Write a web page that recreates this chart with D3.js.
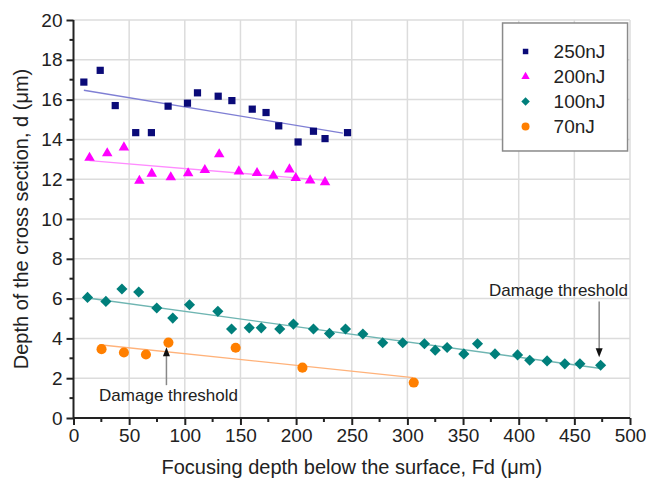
<!DOCTYPE html>
<html>
<head>
<meta charset="utf-8">
<script src="https://cdn.jsdelivr.net/npm/d3@7"></script>
<style>
  body { margin: 0; background: #fff; }
  text { font-family: "Liberation Sans", Arial, sans-serif; fill: #222; }
</style>
</head>
<body>
<div id="chart"></div>
<script>
// values
const seriesNames = ["250nJ", "200nJ", "100nJ", "70nJ"];

const x250 = [9.3, 24, 37.5, 55.9, 70, 85, 102.4, 111.4, 130, 142.3, 160.6, 173, 184.4, 201.8, 215.6, 226, 246.2];
const y250 = [16.88, 17.47, 15.7, 14.34, 14.34, 15.67, 15.82, 16.34, 16.17, 15.95, 15.52, 15.35, 14.68, 13.87, 14.41, 14.04, 14.34];

const x200 = [14.4, 30.3, 45.3, 59.2, 70.3, 87.4, 103, 118, 130.9, 148.6, 164.9, 179.6, 194, 199.7, 212.6, 226];
const y200 = [13.08, 13.3, 13.6, 11.92, 12.28, 12.1, 12.3, 12.46, 13.25, 12.39, 12.31, 12.17, 12.49, 12.06, 11.94, 11.85];

const x100 = [12.6, 29.1, 43.5, 58.6, 74.8, 89.2, 104.2, 129.7, 142, 157.9, 168.7, 185.3, 197.6, 215.6, 230, 244.4,
  260, 277.8, 295.8, 315.3, 325, 335.7, 350.7, 363, 378.7, 399, 409.9, 425.5, 441.4, 455, 473.6];
const y100 = [6.06, 5.86, 6.48, 6.33, 5.53, 5.02, 5.69, 5.36, 4.47, 4.53, 4.53, 4.47, 4.72, 4.47, 4.25, 4.47,
  4.22, 3.78, 3.78, 3.73, 3.41, 3.54, 3.22, 3.73, 3.22, 3.17, 2.9, 2.87, 2.72, 2.72, 2.65];

const x70 = [25.2, 45.3, 65.1, 85.3, 145.7, 205.7, 305.7];
const y70 = [3.46, 3.29, 3.19, 3.79, 3.53, 2.53, 1.78];

// linear fit lines: [x start, y start, x end, y end]
const fit250 = [9.3, 16.47, 242, 14.32];
const fit200 = [14.4, 12.93, 227.6, 11.94];
const fit100 = [12.6, 6.03, 472.4, 2.5];
const fit70 = [23.4, 3.68, 305.1, 2.03];

const xTicks = d3.range(0, 501, 50);
const yTicks = d3.range(0, 21, 2);

const W = 646, H = 479;
const margin = { top: 20, right: 16, bottom: 61, left: 73.5 };
const width = W - margin.left - margin.right,
    height = H - margin.top - margin.bottom;

const svg = d3.select("#chart").append("svg")
    .attr("width", W)
    .attr("height", H);

const g = svg.append("g")
    .attr("transform", `translate(${margin.left},${margin.top})`);

const x = d3.scaleLinear().domain([0, 500]).range([0, width]);
const y = d3.scaleLinear().domain([0, 20]).range([height, 0]);

// grid
g.append("g").selectAll("line")
    .data(xTicks.slice(1))
    .join("line")
    .attr("x1", d => x(d)).attr("x2", d => x(d))
    .attr("y1", 0).attr("y2", height)
    .attr("stroke", "#dcdcdc").attr("stroke-width", 1.5);

g.append("g").selectAll("line")
    .data(yTicks.slice(1))
    .join("line")
    .attr("x1", 0).attr("x2", width)
    .attr("y1", d => y(d)).attr("y2", d => y(d))
    .attr("stroke", "#dcdcdc").attr("stroke-width", 1.5);

// fit lines
const fits = [
  { f: fit250, c: "#7f7fd4" },
  { f: fit200, c: "#ff8cff" },
  { f: fit100, c: "#6fb5b2" },
  { f: fit70, c: "#ffb27a" }
];
g.append("g").selectAll("line")
    .data(fits)
    .join("line")
    .attr("x1", d => x(d.f[0])).attr("y1", d => y(d.f[1]))
    .attr("x2", d => x(d.f[2])).attr("y2", d => y(d.f[3]))
    .attr("stroke", d => d.c).attr("stroke-width", 1.3);

// markers
const styles = [
  { xs: x250, ys: y250, color: "#0a0a78", sym: d3.symbolSquare, size: 52, rot: 0 },
  { xs: x200, ys: y200, color: "#ff00ff", sym: d3.symbolTriangle, size: 48, rot: 0 },
  { xs: x100, ys: y100, color: "#007f7b", sym: d3.symbolSquare, size: 62, rot: 45 },
  { xs: x70, ys: y70, color: "#ff7f00", sym: d3.symbolCircle, size: 80, rot: 0 }
];

styles.forEach(s => {
  const pts = s.xs.map((v, i) => [v, s.ys[i]]);
  g.append("g").selectAll("path")
      .data(pts)
      .join("path")
      .attr("d", d3.symbol().type(s.sym).size(s.size))
      .attr("transform", d => `translate(${x(d[0])},${y(d[1])}) rotate(${s.rot})`)
      .attr("fill", s.color);
});

// axes
const xAxis = g.append("g")
    .attr("transform", `translate(0,${height})`)
    .call(d3.axisBottom(x).tickValues(xTicks).tickSize(7).tickPadding(4));
xAxis.append("g").selectAll("line")
    .data(d3.range(25, 500, 50))
    .join("line")
    .attr("x1", d => x(d)).attr("x2", d => x(d))
    .attr("y1", 0).attr("y2", 4)
    .attr("stroke", "#222").attr("stroke-width", 2);

const yAxis = g.append("g")
    .call(d3.axisLeft(y).tickValues(yTicks).tickSize(7).tickPadding(4));
yAxis.append("g").selectAll("line")
    .data(d3.range(1, 20, 2))
    .join("line")
    .attr("y1", d => y(d)).attr("y2", d => y(d))
    .attr("x1", 0).attr("x2", -4)
    .attr("stroke", "#222").attr("stroke-width", 2);

[xAxis, yAxis].forEach(a => {
  a.select(".domain").attr("stroke", "#222").attr("stroke-width", 2);
  a.selectAll(".tick line").attr("stroke", "#222").attr("stroke-width", 2);
  a.selectAll(".tick text")
      .style("font-family", "'Liberation Sans', Arial, sans-serif")
      .style("font-size", "19px")
      .attr("fill", "#222");
});
xAxis.select(".domain").attr("d", `M0,0H${width}`);
yAxis.select(".domain").attr("d", `M0,0V${height}`);

// axis titles
g.append("text")
    .attr("x", width / 2)
    .attr("y", height + 56)
    .attr("text-anchor", "middle")
    .style("font-size", "20px")
    .text("Focusing depth below the surface, Fd (μm)");

g.append("text")
    .attr("transform", "rotate(-90)")
    .attr("x", -(y(10)))
    .attr("y", -46)
    .attr("text-anchor", "middle")
    .style("font-size", "20px")
    .text("Depth of the cross section, d (μm)");

// annotations
function arrow(px, yFrom, yTo) {
  const dir = yTo > yFrom ? 1 : -1;
  g.append("line")
      .attr("x1", px).attr("x2", px)
      .attr("y1", yFrom).attr("y2", yTo - dir * 8)
      .attr("stroke", "#888").attr("stroke-width", 1.5);
  g.append("path")
      .attr("d", `M${px - 3.5},${yTo - dir * 9}L${px + 3.5},${yTo - dir * 9}L${px},${yTo}Z`)
      .attr("fill", "#111");
}

g.append("text")
    .attr("x", x(23))
    .attr("y", y(0.84))
    .style("font-size", "17px")
    .text("Damage threshold");
arrow(x(83.5), y(1.65), y(3.55));

g.append("text")
    .attr("x", x(500) - 2)
    .attr("y", y(6.12))
    .attr("text-anchor", "end")
    .style("font-size", "17px")
    .text("Damage threshold");
arrow(x(472.3), y(5.85), y(3.05));

// legend
const legend = g.append("g")
    .attr("transform", `translate(${x(385.5)},${y(19.85)})`);

legend.append("rect")
    .attr("width", 125)
    .attr("height", 128)
    .attr("fill", "#fff")
    .attr("stroke", "#8a8a8a")
    .attr("stroke-width", 1.5);

const legendSyms = [
  { sym: d3.symbolSquare, size: 30, rot: 0 },
  { sym: d3.symbolTriangle, size: 30, rot: 0 },
  { sym: d3.symbolSquare, size: 36, rot: 45 },
  { sym: d3.symbolCircle, size: 50, rot: 0 }
];

seriesNames.forEach((name, i) => {
  const row = legend.append("g")
      .attr("transform", `translate(0,${28.5 + i * 25})`);
  row.append("path")
      .attr("d", d3.symbol().type(legendSyms[i].sym).size(legendSyms[i].size))
      .attr("transform", `translate(23,0) rotate(${legendSyms[i].rot})`)
      .attr("fill", styles[i].color);
  row.append("text")
      .attr("x", 51)
      .attr("y", 7)
      .style("font-size", "19px")
      .text(name);
});
</script>
</body>
</html>
